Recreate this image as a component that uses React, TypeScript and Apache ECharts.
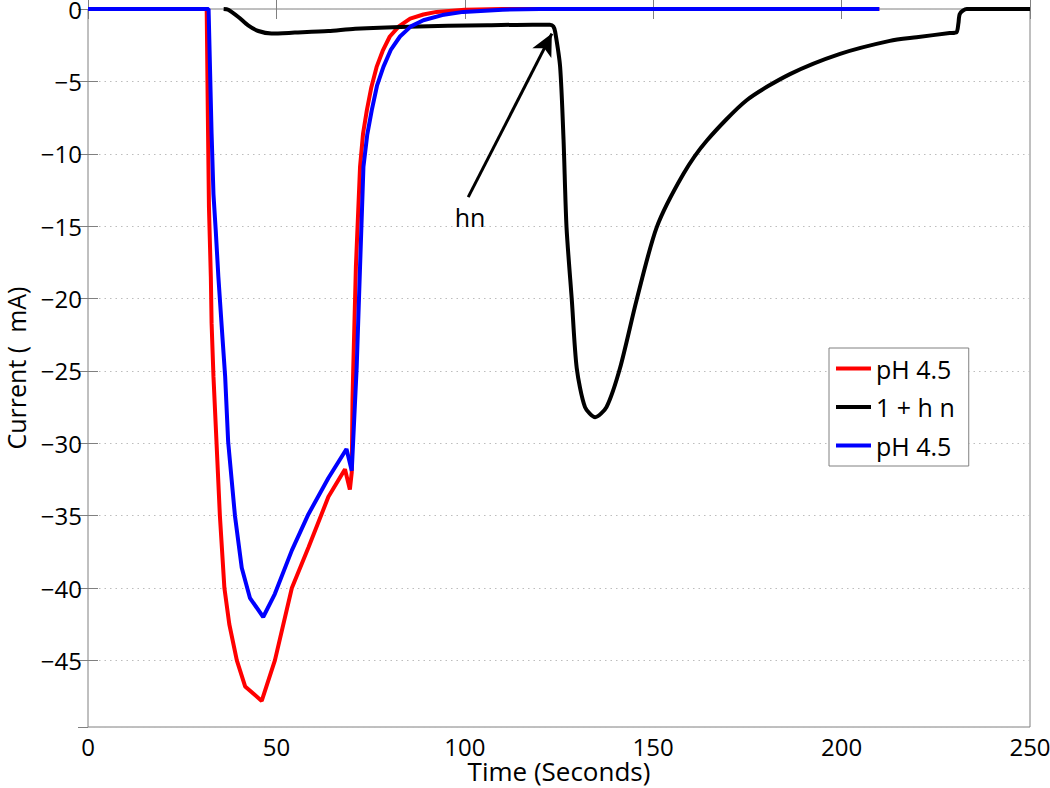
import React, { useEffect, useRef } from "react";
import * as echarts from "echarts";

// Time (s), Current values
const redTime = [0, 31.5, 31.8, 32.1, 32.6, 32.8, 33.3, 34.1, 35.0, 36.2, 37.5, 39.5, 41.7, 46.1, 49.6, 54.1, 58.5, 63.8, 68.2, 69.5, 70.0, 70.2, 70.4, 71.1, 72.2, 73.0, 74.0, 75.2, 76.6, 78.2, 80.1, 82.5, 85.5, 89.0, 92.5, 100, 110, 210];
const redCurrent = [0, 0, -7.2, -13.7, -18.5, -21.7, -25.4, -29.9, -35.0, -40.0, -42.5, -45.0, -46.8, -47.8, -45.0, -40.0, -37.2, -33.7, -31.8, -33.2, -32.0, -27.0, -24.8, -17.8, -10.9, -8.6, -7.0, -5.4, -4.0, -2.9, -1.9, -1.2, -0.66, -0.38, -0.2, -0.05, 0, 0];

const blackTime = [36, 37.2, 39.9, 42.5, 45.2, 48.7, 54.9, 63.8, 70.9, 85, 106, 118, 122.6, 123.5, 124.0, 125.3, 126.2, 127.0, 128.4, 129.7, 131.9, 134.6, 137.6, 141.2, 145.6, 150.9, 158.0, 164.2, 174.8, 186.3, 199.6, 212.8, 219.9, 228.7, 230.5, 231.0, 231.4, 233.2, 250];
const blackCurrent = [0, -0.05, -0.55, -1.13, -1.52, -1.7, -1.63, -1.52, -1.36, -1.22, -1.12, -1.08, -1.08, -1.2, -1.6, -4.0, -9.0, -15.1, -20.1, -24.8, -27.5, -28.2, -27.5, -24.8, -20.1, -15.1, -11.4, -9.1, -6.3, -4.5, -3.1, -2.2, -1.95, -1.66, -1.6, -1.0, -0.32, 0, 0];

const blueTime = [0, 32.0, 32.8, 33.3, 33.9, 34.6, 35.5, 36.4, 37.2, 39.0, 40.8, 43.0, 46.5, 49.6, 54.1, 58.5, 63.8, 68.6, 70.0, 71.3, 72.2, 73.1, 74.1, 75.3, 76.7, 78.4, 80.4, 82.8, 85.7, 89.0, 94.0, 99.6, 110, 120, 210];
const blueCurrent = [0, 0, -8.6, -12.8, -15.3, -18.5, -22.0, -25.4, -29.9, -35.0, -38.6, -40.7, -42.0, -40.4, -37.4, -34.9, -32.4, -30.4, -31.9, -24.8, -17.8, -10.9, -8.7, -7.0, -5.3, -4.0, -2.8, -1.9, -1.2, -0.78, -0.42, -0.2, -0.05, 0, 0];

const seriesNames = ["pH 4.5", "1 + h n", "pH 4.5 (2)"];
const legendLabels = ["pH 4.5", "1 + h n", "pH 4.5"];
const xTicks = [0, 50, 100, 150, 200, 250];

const arrowStart = [100.9, -13.0];
const arrowEnd = [123.1, -1.7];
const annotationPos = [101.4, -14.4];
const annotationText = "hn";

const FONT = "'Open Sans', 'DejaVu Sans', sans-serif";
const LEGEND_ICON = "path://M0,0 L35,0 L35,4 L0,4 Z";

const zip = (a: number[], b: number[]) => a.map((v, i) => [v, b[i]]);
const fmtNum = (v: number) => (v < 0 ? "\u2212" + Math.abs(v) : String(v));

export default function App() {
  const ref = useRef<HTMLDivElement>(null);
  useEffect(() => {
    if (!ref.current) return;
    const chart = echarts.init(ref.current, null, { renderer: "svg" });
    const gray = "#808080";
    const lineBase = { type: "line", symbol: "none", showSymbol: false, silent: true };
    chart.setOption({
      animation: false,
      backgroundColor: "#ffffff",
      textStyle: { fontFamily: FONT },
      grid: { left: 88, right: 20, top: 9, bottom: 61, show: true, borderColor: gray, borderWidth: 1, backgroundColor: "transparent", containLabel: false, outerBoundsMode: "none" },
      legend: {
        data: seriesNames.map((n) => ({ name: n, icon: LEGEND_ICON })),
        orient: "vertical",
        left: 829,
        top: 348,
        itemWidth: 35,
        itemHeight: 24,
        itemGap: 13.5,
        padding: [8, 14, 8, 7],
        backgroundColor: "#ffffff",
        borderColor: gray,
        borderWidth: 1,
        borderRadius: 0,
        selectedMode: false,
        formatter: (name: string) => legendLabels[seriesNames.indexOf(name)] ?? name,
        textStyle: { fontSize: 25, color: "#000", fontFamily: FONT, lineHeight: 25 },
      },
      xAxis: [
        {
          type: "value", min: 0, max: 250, interval: 50, position: "bottom",
          name: "Time (Seconds)", nameLocation: "middle", nameGap: 31, nameMoveOverlap: false,
          nameTextStyle: { fontSize: 26, color: "#000", fontFamily: FONT, lineHeight: 26 },
          axisLine: { show: false },
          axisTick: { inside: true, length: 10, lineStyle: { color: gray } },
          axisLabel: { margin: 7, fontSize: 24, color: "#000", fontFamily: FONT, formatter: (v: number) => (xTicks.includes(v) ? fmtNum(v) : "") },
          splitLine: { show: false },
        },
        {
          type: "value", min: 0, max: 250, interval: 50, position: "top",
          axisLine: { show: false },
          axisTick: { inside: true, length: 10, lineStyle: { color: gray } },
          axisLabel: { show: false },
          splitLine: { show: false },
        },
      ],
      yAxis: [
        {
          type: "value", min: -49.6, max: 0, splitNumber: 10, position: "left",
          name: "Current (  mA)", nameLocation: "middle", nameGap: 60, nameMoveOverlap: false,
          nameTextStyle: { fontSize: 25, color: "#000", fontFamily: FONT, lineHeight: 25 },
          axisLine: { show: false },
          axisTick: { inside: true, length: 10, lineStyle: { color: gray } },
          axisLabel: { margin: 6, fontSize: 24, lineHeight: 18, color: "#000", fontFamily: FONT, showMinLabel: false, formatter: (v: number) => (Math.abs(v % 5) < 1e-6 ? fmtNum(v) : "") },
          splitLine: { show: true, lineStyle: { color: "#bdbdbd", type: [1.5, 4], width: 1 } },
        },
        {
          type: "value", min: -49.6, max: 0, splitNumber: 10, position: "right",
          axisLine: { show: false },
          axisTick: { inside: true, length: 10, lineStyle: { color: gray } },
          axisLabel: { show: false },
          splitLine: { show: false },
        },
      ],
      series: [
        { ...lineBase, name: seriesNames[0], data: zip(redTime, redCurrent), lineStyle: { color: "#ff0000", width: 4 }, itemStyle: { color: "#ff0000" } },
        {
          ...lineBase, name: seriesNames[1], data: zip(blackTime, blackCurrent), smooth: 0.25,
          lineStyle: { color: "#000000", width: 4 }, itemStyle: { color: "#000000" },
          markLine: {
            silent: true,
            symbol: ["none", "arrow"],
            symbolSize: [16, 22],
            label: { show: false },
            lineStyle: { color: "#000", width: 3, type: "solid" },
            emphasis: { disabled: true },
            data: [[{ coord: arrowStart }, { coord: arrowEnd }]],
          },
        },
        { ...lineBase, name: seriesNames[2], data: zip(blueTime, blueCurrent), lineStyle: { color: "#0000ff", width: 4 }, itemStyle: { color: "#0000ff" } },
        {
          type: "scatter", name: "annotation", silent: true, symbolSize: 0,
          itemStyle: { opacity: 1 },
          data: [annotationPos],
          label: { show: true, position: "inside", formatter: annotationText, fontSize: 25, color: "#000000", opacity: 1, fontFamily: FONT },
        },
      ],
    });
    return () => chart.dispose();
  }, []);
  return <div ref={ref} style={{ position: "fixed", left: 0, top: 0, width: 1050, height: 788, background: "#fff" }} />;
}
